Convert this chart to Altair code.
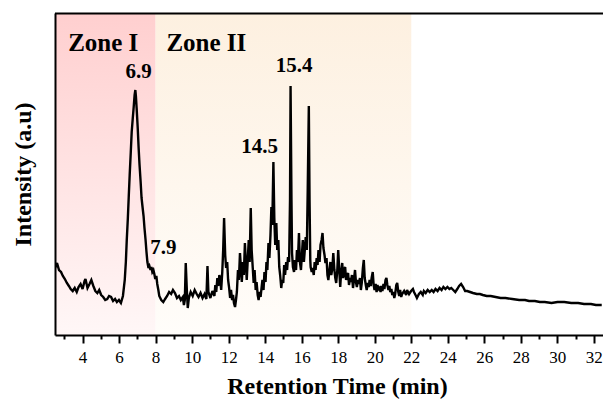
import altair as alt
import pandas as pd

# Retention time (min) and intensity (a.u., arbitrary scale 0-322)
times = [2.49, 2.60, 2.71, 2.82, 2.92, 3.03, 3.14, 3.25, 3.35, 3.46, 3.57, 3.68, 3.78, 3.89, 4.00,
         4.11, 4.16, 4.27, 4.38, 4.48, 4.59, 4.70, 4.81, 4.91, 5.02, 5.13, 5.24, 5.35, 5.45, 5.56,
         5.67, 5.78, 5.88, 5.99, 6.10, 6.21, 6.31, 6.37, 6.42, 6.48, 6.53, 6.58, 6.64, 6.69, 6.75,
         6.80, 6.85, 6.89, 6.92, 6.96, 7.02, 7.07, 7.12, 7.18, 7.23, 7.29, 7.34, 7.39, 7.45, 7.50,
         7.55, 7.61, 7.66, 7.72, 7.77, 7.82, 7.88, 7.93, 7.98, 8.04, 8.09, 8.15, 8.20, 8.31, 8.42,
         8.52, 8.63, 8.74, 8.85, 8.95, 9.06, 9.17, 9.28, 9.38, 9.49, 9.55, 9.60, 9.65, 9.71, 9.76,
         9.82, 9.92, 10.03, 10.14, 10.25, 10.35, 10.46, 10.57, 10.68, 10.78, 10.84, 10.89, 11.00, 11.11, 11.22,
         11.27, 11.32, 11.38, 11.43, 11.49, 11.54, 11.59, 11.65, 11.70, 11.75, 11.81, 11.86, 11.92, 11.97, 12.02,
         12.08, 12.13, 12.19, 12.24, 12.29, 12.35, 12.40, 12.45, 12.51, 12.56, 12.62, 12.67, 12.72, 12.78, 12.83,
         12.89, 12.94, 12.99, 13.05, 13.10, 13.15, 13.21, 13.26, 13.32, 13.37, 13.42, 13.48, 13.53, 13.59, 13.64,
         13.69, 13.75, 13.80, 13.85, 13.91, 13.96, 14.02, 14.07, 14.12, 14.18, 14.23, 14.29, 14.34, 14.39, 14.45,
         14.50, 14.55, 14.61, 14.66, 14.72, 14.77, 14.82, 14.88, 14.93, 14.99, 15.04, 15.09, 15.15, 15.20, 15.25,
         15.31, 15.36, 15.39, 15.44, 15.47, 15.52, 15.58, 15.63, 15.69, 15.74, 15.79, 15.85, 15.90, 15.96, 16.01,
         16.06, 16.12, 16.17, 16.22, 16.28, 16.33, 16.39, 16.43, 16.47, 16.49, 16.55, 16.60, 16.66, 16.71, 16.76,
         16.82, 16.87, 16.92, 16.98, 17.03, 17.09, 17.14, 17.19, 17.25, 17.30, 17.36, 17.41, 17.46, 17.52, 17.57,
         17.62, 17.68, 17.73, 17.79, 17.84, 17.89, 17.95, 18.00, 18.05, 18.11, 18.16, 18.22, 18.27, 18.32, 18.38,
         18.43, 18.49, 18.54, 18.59, 18.65, 18.70, 18.75, 18.81, 18.86, 18.92, 18.97, 19.02, 19.08, 19.13, 19.19,
         19.24, 19.29, 19.35, 19.40, 19.45, 19.51, 19.56, 19.62, 19.67, 19.72, 19.78, 19.83, 19.89, 19.94, 19.99,
         20.05, 20.10, 20.15, 20.21, 20.26, 20.32, 20.37, 20.42, 20.48, 20.53, 20.59, 20.64, 20.69, 20.75, 20.80,
         20.85, 20.91, 20.96, 21.02, 21.07, 21.12, 21.18, 21.23, 21.29, 21.34, 21.39, 21.45, 21.50, 21.61, 21.72,
         21.77, 21.88, 21.99, 22.09, 22.15, 22.26, 22.31, 22.42, 22.52, 22.63, 22.69, 22.79, 22.90, 23.01, 23.12,
         23.22, 23.33, 23.44, 23.55, 23.66, 23.76, 23.87, 23.98, 24.09, 24.19, 24.30, 24.41, 24.52, 24.62, 24.73,
         24.84, 24.95, 25.06, 25.22, 25.38, 25.59, 25.76, 25.92, 26.13, 26.35, 26.62, 26.89, 27.16, 27.53, 27.91,
         28.23, 28.45, 28.77, 29.04, 29.31, 29.68, 30.01, 30.38, 30.76, 31.14, 31.46, 31.84, 32.11, 32.43]

intensity = [67, 72, 65, 63, 59, 56, 52, 49, 46, 44, 47, 43, 48, 51, 46,
             54, 56, 47, 51, 55, 49, 44, 42, 45, 40, 38, 35, 36, 39, 38,
             34, 36, 33, 35, 32, 39, 55, 73, 95, 117, 139, 160, 183, 203, 217,
             228, 240, 245, 239, 227, 207, 187, 170, 153, 137, 127, 119, 107, 95, 83,
             73, 67, 69, 65, 68, 63, 65, 61, 56, 59, 51, 45, 39, 35, 33,
             36, 39, 43, 41, 45, 42, 37, 39, 35, 38, 30, 35, 72, 45, 27,
             37, 43, 39, 45, 41, 38, 42, 37, 41, 36, 69, 43, 37, 44, 39,
             50, 43, 57, 49, 60, 55, 45, 63, 85, 117, 80, 67, 73, 55, 48,
             37, 45, 35, 40, 32, 28, 35, 43, 65, 55, 82, 67, 53, 73, 60,
             92, 73, 55, 77, 95, 73, 127, 85, 67, 52, 65, 45, 53, 40, 35,
             43, 38, 47, 55, 45, 63, 53, 73, 65, 92, 77, 100, 128, 110, 173,
             117, 90, 112, 85, 95, 68, 60, 47, 55, 52, 70, 60, 73, 65, 78,
             73, 135, 249, 135, 82, 68, 63, 75, 65, 85, 73, 102, 73, 65, 80,
             95, 73, 85, 98, 85, 145, 229, 135, 75, 68, 63, 67, 60, 73, 65,
             77, 70, 85, 73, 90, 95, 102, 87, 80, 72, 77, 60, 55, 65, 73,
             60, 67, 82, 65, 57, 52, 65, 85, 67, 48, 63, 72, 57, 65, 68,
             55, 60, 62, 50, 57, 53, 60, 47, 55, 65, 53, 48, 55, 51, 57,
             45, 52, 67, 75, 57, 50, 45, 52, 48, 55, 49, 57, 63, 50, 45,
             51, 43, 50, 46, 47, 43, 49, 44, 51, 46, 55, 57, 50, 45, 49,
             43, 46, 40, 43, 37, 41, 50, 52, 43, 39, 45, 38, 41, 44, 40,
             45, 41, 44, 46, 43, 39, 37, 41, 43, 40, 44, 42, 45, 43, 45,
             43, 46, 44, 47, 45, 48, 46, 48, 46, 47, 45, 43, 46, 49, 51,
             48, 44, 44, 43, 42, 41, 41, 40, 39, 39, 38, 37, 37, 36, 35,
             35, 34, 34, 33, 33, 32, 33, 33, 32, 32, 31, 31, 30, 30]

x_domain = [2.49, 32.5]
y_domain = [0, 322]
x_ticks = list(range(3, 33))

zone_names = ["Zone I", "Zone II"]
zone_start = [2.49, 8.0]
zone_end = [8.0, 22.0]
zone_label_x = [5.13, 10.78]
zone_label_y = [284, 284]

peak_labels = ["6.9", "7.9", "14.5", "15.4"]
peak_label_x = [7.07, 8.42, 13.69, 15.58]
peak_label_y = [257, 81, 182, 263]

FONT = "Liberation Serif"

trace = pd.DataFrame({"t": times, "i": intensity})
zones = pd.DataFrame({"name": zone_names, "start": zone_start, "end": zone_end,
                      "lx": zone_label_x, "ly": zone_label_y,
                      "top": [y_domain[1]] * 2, "bottom": [y_domain[0]] * 2})
peaks = pd.DataFrame({"label": peak_labels, "x": peak_label_x, "y": peak_label_y})
frame_top = pd.DataFrame({"x0": [x_domain[0]], "x1": [x_domain[1]],
                          "y0": [y_domain[1] - 1.5], "y1": [y_domain[1] + 0.5]})

xs = alt.Scale(domain=x_domain, nice=False, zero=False)
ys = alt.Scale(domain=y_domain, nice=False, zero=False)

grad1 = alt.Gradient(gradient="linear", x1=0, x2=0, y1=0, y2=1,
                     stops=[alt.GradientStop(color="#FFCFCF", offset=0),
                            alt.GradientStop(color="#FFF7F7", offset=1)])
grad2 = alt.Gradient(gradient="linear", x1=0, x2=0, y1=0, y2=1,
                     stops=[alt.GradientStop(color="#FDF0E0", offset=0),
                            alt.GradientStop(color="#FFFDFA", offset=1)])

zone1 = alt.Chart(zones).transform_filter(alt.datum.name == "Zone I").mark_rect(fill=grad1).encode(
    x=alt.X("start:Q", scale=xs, axis=None), x2="end:Q",
    y=alt.Y("top:Q", scale=ys, axis=None), y2="bottom:Q")
zone2 = alt.Chart(zones).transform_filter(alt.datum.name == "Zone II").mark_rect(fill=grad2).encode(
    x=alt.X("start:Q", scale=xs, axis=None), x2="end:Q",
    y=alt.Y("top:Q", scale=ys, axis=None), y2="bottom:Q")

# top edge of the frame, drawn as a thin filled band along the top of the plot
top_line = alt.Chart(frame_top).mark_rect(color="black", clip=False).encode(
    x=alt.X("x0:Q", scale=xs, axis=None), x2="x1:Q",
    y=alt.Y("y1:Q", scale=ys, axis=None), y2="y0:Q")

bottom_axis = alt.Axis(orient="bottom", values=x_ticks, grid=False, zindex=2,
                       labelExpr="datum.value % 2 === 0 ? datum.label : ''",
                       tickSize={"condition": {"test": "datum.value % 2 === 0", "value": 8}, "value": 4},
                       tickWidth=2, tickColor="black", domainColor="black", domainWidth=2,
                       labelFont=FONT, labelFontSize=17, labelColor="black", labelPadding=6,
                       title="Retention Time (min)", titleFont=FONT, titleFontSize=24,
                       titleFontWeight="bold", titleColor="black",
                       titleX=282, titleY=58, titleBaseline="alphabetic")
left_axis = alt.Axis(orient="left", labels=False, ticks=False, grid=False, zindex=2,
                     domainColor="black", domainWidth=2,
                     title="Intensity (a.u)", titleFont=FONT, titleFontSize=24,
                     titleFontWeight="bold", titleColor="black", titlePadding=20)

line = alt.Chart(trace).mark_line(color="black", strokeWidth=2.4, clip=True,
                                  strokeJoin="miter", strokeMiterLimit=3).encode(
    x=alt.X("t:Q", scale=xs, axis=bottom_axis),
    y=alt.Y("i:Q", scale=ys, axis=left_axis))

zone_text = alt.Chart(zones).mark_text(font=FONT, fontSize=25, fontWeight="bold",
                                       color="black", baseline="alphabetic").encode(
    x=alt.X("lx:Q", scale=xs, axis=None), y=alt.Y("ly:Q", scale=ys, axis=None), text="name:N")

peak_text = alt.Chart(peaks).mark_text(font=FONT, fontSize=21, fontWeight="bold",
                                       color="black", baseline="alphabetic").encode(
    x=alt.X("x:Q", scale=xs, axis=None), y=alt.Y("y:Q", scale=ys, axis=None), text="label:N")

chart = alt.layer(zone1, zone2, top_line, line, zone_text, peak_text).resolve_axis(
    x="independent", y="independent").properties(
    width=548, height=322,
    autosize=alt.AutoSizeParams(type="none"),
    padding={"left": 47, "top": 5, "right": 0, "bottom": 65},
).configure_view(stroke=None)

chart.save("out.html", embed_options={"renderer": "svg", "actions": False})
